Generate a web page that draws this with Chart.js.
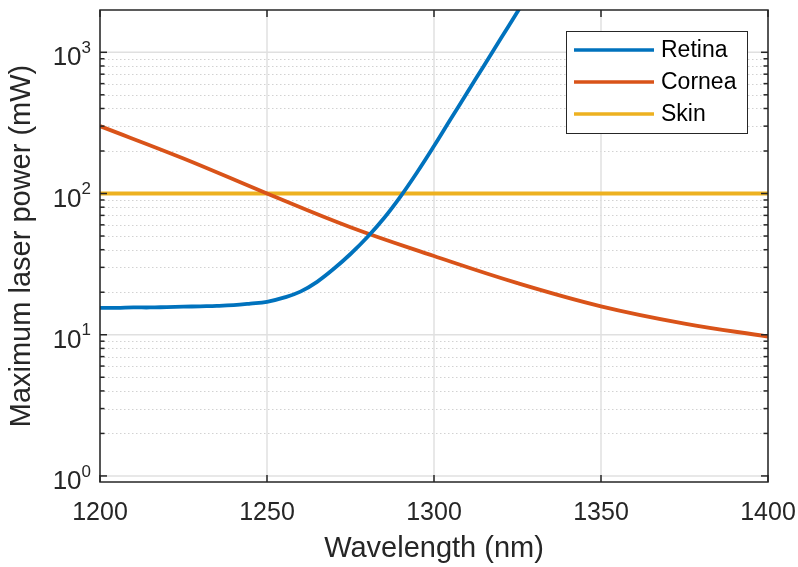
<!DOCTYPE html>
<html>
<head>
<meta charset="utf-8">
<script src="https://cdn.jsdelivr.net/npm/chart.js@4.4.0/dist/chart.umd.min.js"></script>
<style>
  html, body { margin: 0; padding: 0; background: #fff; }
</style>
</head>
<body>
<canvas id="laserChart" width="798" height="567"></canvas>
<script>
// --- Values ---
const retinaNm = [1200, 1205, 1210, 1215, 1220, 1225, 1230, 1235, 1240, 1245, 1250, 1255, 1260,
                  1265, 1270, 1275, 1280, 1285, 1290, 1295, 1300, 1305, 1310, 1315, 1320, 1325, 1330];
const retinaMw = [15.5, 15.5, 15.6, 15.6, 15.7, 15.8, 15.9, 16.0, 16.2, 16.6, 17.1, 18.3, 20.2,
                  23.7, 29.3, 37.3, 49.0, 66.8, 95.5, 142, 217, 337, 521, 807, 1250, 1936, 3000];

const corneaNm = [1200, 1225, 1250, 1275, 1300, 1325, 1350, 1375, 1400];
const corneaMw = [300, 177, 100, 57.7, 36.1, 23.2, 15.9, 12.0, 9.7];

const skinNm = [1200, 1400];
const skinMw = [100, 100];

const seriesNames = ["Retina", "Cornea", "Skin"];
const seriesColors = ["#0072BD", "#D95319", "#EDB120"];

const xTicks = [1200, 1250, 1300, 1350, 1400];
const yDecades = [1, 10, 100, 1000];
const yExponents = ["0", "1", "2", "3"];

const FONT = '"Liberation Sans", Arial, Helvetica, sans-serif';
const AXIS_COLOR = "#262626";

// --- helpers ---
function toPoints(xs, ys) {
  return xs.map((x, i) => ({ x, y: ys[i] }));
}

function minorValues(maxVal) {
  const out = [];
  yDecades.forEach(d => {
    for (let m = 2; m <= 9; m++) {
      if (m * d < maxVal) out.push(m * d);
    }
  });
  return out;
}

function hline(ctx, x0, x1, y) {
  ctx.beginPath(); ctx.moveTo(x0, y); ctx.lineTo(x1, y); ctx.stroke();
}
function vline(ctx, x, y0, y1) {
  ctx.beginPath(); ctx.moveTo(x, y0); ctx.lineTo(x, y1); ctx.stroke();
}

// --- MATLAB-style axes: grid, box, inward ticks, 10^n labels, legend ---
const matlabAxes = {
  id: "matlabAxes",
  beforeDatasetsDraw(chart) {
    const { ctx, chartArea: a, scales: { x, y } } = chart;
    ctx.save();
    // dotted minor grid on y
    ctx.lineWidth = 1;
    ctx.strokeStyle = "#d2d2d2";
    ctx.setLineDash([1.5, 2.5]);
    minorValues(y.max).forEach(v => {
      const py = Math.round(y.getPixelForValue(v)) + 0.5;
      hline(ctx, a.left, a.right, py);
    });
    // solid major grid
    ctx.setLineDash([]);
    ctx.strokeStyle = "#e0e0e0";
    ctx.lineWidth = 1.5;
    yDecades.forEach(v => hline(ctx, a.left, a.right, y.getPixelForValue(v)));
    xTicks.forEach(v => vline(ctx, x.getPixelForValue(v), a.top, a.bottom));
    ctx.restore();
  },
  afterDatasetsDraw(chart) {
    const { ctx, chartArea: a, scales: { x, y } } = chart;
    ctx.save();
    ctx.strokeStyle = AXIS_COLOR;
    ctx.lineWidth = 1.5;
    ctx.strokeRect(a.left, a.top, a.right - a.left, a.bottom - a.top);

    // ticks pointing inward on all four sides
    const major = 7, minor = 4.5;
    xTicks.forEach(v => {
      const px = x.getPixelForValue(v);
      vline(ctx, px, a.bottom, a.bottom - major);
      vline(ctx, px, a.top, a.top + major);
    });
    yDecades.forEach(v => {
      const py = y.getPixelForValue(v);
      hline(ctx, a.left, a.left + major, py);
      hline(ctx, a.right, a.right - major, py);
    });
    minorValues(y.max).forEach(v => {
      const py = y.getPixelForValue(v);
      hline(ctx, a.left, a.left + minor, py);
      hline(ctx, a.right, a.right - minor, py);
    });

    // y tick labels as 10 with superscript
    ctx.fillStyle = AXIS_COLOR;
    ctx.textAlign = "right";
    ctx.textBaseline = "middle";
    yDecades.forEach((v, i) => {
      const py = y.getPixelForValue(v);
      const right = a.left - 9;
      ctx.font = "17px " + FONT;
      const expW = ctx.measureText(yExponents[i]).width;
      ctx.fillText(yExponents[i], right, py - 4);
      ctx.font = "26px " + FONT;
      ctx.fillText("10", right - expW, py + 6);
    });

    // legend box, top right inside the axes
    const boxW = 181, boxH = 102;
    const bx = a.right - 21 - boxW, by = a.top + 21;
    ctx.fillStyle = "#fff";
    ctx.fillRect(bx, by, boxW, boxH);
    ctx.lineWidth = 1;
    ctx.strokeStyle = AXIS_COLOR;
    ctx.strokeRect(bx + 0.5, by + 0.5, boxW, boxH);
    ctx.font = "23px " + FONT;
    ctx.textAlign = "left";
    ctx.textBaseline = "middle";
    chart.data.datasets.forEach((ds, i) => {
      const ly = by + 19 + i * 32;
      ctx.strokeStyle = ds.borderColor;
      ctx.lineWidth = 3.5;
      hline(ctx, bx + 8, bx + 88, ly);
      ctx.fillStyle = "#000";
      ctx.fillText(ds.label, bx + 95, ly + 1);
    });
    ctx.restore();
  }
};

// --- Chart.js setup ---
const ctx = document.getElementById("laserChart").getContext("2d");
const seriesData = [toPoints(retinaNm, retinaMw), toPoints(corneaNm, corneaMw), toPoints(skinNm, skinMw)];

const chart = new Chart(ctx, {
  type: "line",
  data: {
    datasets: seriesData.map((pts, i) => ({
      label: seriesNames[i],
      data: pts,
      borderColor: seriesColors[i],
      borderWidth: 3.8,
      pointRadius: 0,
      fill: false,
      tension: 0.4
    }))
  },
  options: {
    responsive: false,
    animation: false,
    devicePixelRatio: 1,
    layout: { padding: { top: 10, right: 30, left: 0, bottom: 0 } },
    plugins: {
      legend: { display: false },
      tooltip: { enabled: false }
    },
    scales: {
      x: {
        type: "linear",
        min: 1200,
        max: 1400,
        afterBuildTicks: scale => { scale.ticks = xTicks.map(v => ({ value: v })); },
        afterFit: scale => {
          scale.height = 85;
          scale.paddingLeft = 0;   // let the end labels hang over, like MATLAB
          scale.paddingRight = 0;
        },
        grid: { display: false },
        border: { display: false },
        ticks: {
          color: AXIS_COLOR,
          font: { family: FONT, size: 25 },
          padding: 8,
          maxRotation: 0,
          autoSkip: false,
          callback: v => String(v)
        },
        title: {
          display: true,
          text: "Wavelength (nm)",
          color: AXIS_COLOR,
          font: { family: FONT, size: 29 },
          padding: { top: 0, bottom: 1 }
        }
      },
      y: {
        type: "logarithmic",
        min: 0.906,
        max: 1993,
        afterFit: scale => { scale.width = 100; },
        grid: { display: false },
        border: { display: false },
        ticks: { display: false },
        title: {
          display: true,
          text: "Maximum laser power (mW)",
          color: AXIS_COLOR,
          font: { family: FONT, size: 29 },
          padding: { top: 5, bottom: 0 }
        }
      }
    }
  },
  plugins: [matlabAxes]
});
</script>
</body>
</html>
